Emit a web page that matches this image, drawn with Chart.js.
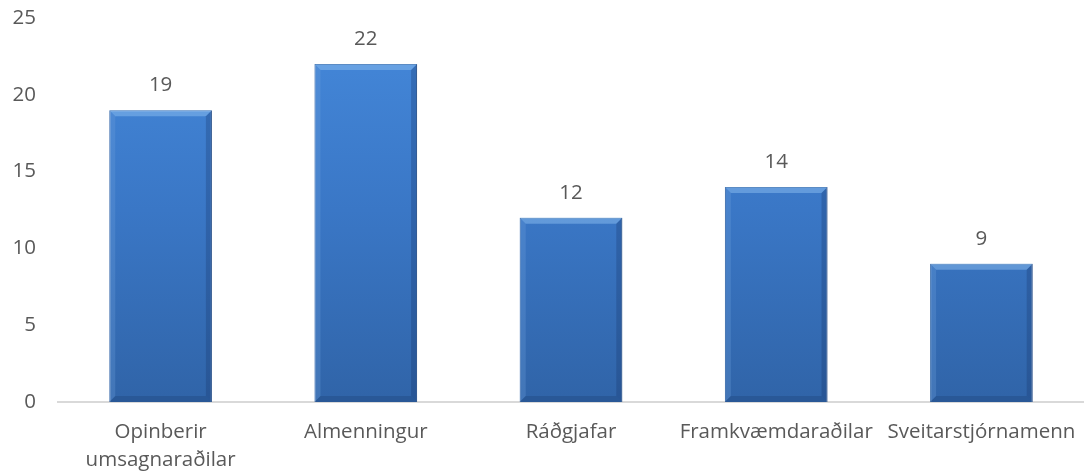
<!DOCTYPE html>
<html>
<head>
<meta charset="utf-8">
<script src="https://cdn.jsdelivr.net/npm/chart.js@4"></script>
<style>
  html, body { margin: 0; padding: 0; background: #fff; overflow: hidden; }
  #wrap { width: 1084px; height: 472px; position: relative; }
</style>
</head>
<body>
<div id="wrap"><canvas id="chart"></canvas></div>
<script>
const categories = [['Opinberir', 'umsagnaraðilar'], 'Almenningur', 'Ráðgjafar', 'Framkvæmdaraðilar', 'Sveitarstjórnamenn'];
const values = [19, 22, 12, 14, 9];
const yTicks = [0, 5, 10, 15, 20, 25];

const FONT = "'Open Sans', 'Liberation Sans', sans-serif";
const FS = 20.5;
const TXT = '#595959';

function barFill(ctx) {
  const c = ctx.chart;
  const a = c.chartArea;
  if (!a) return '#3a78c8';
  const g = c.ctx.createLinearGradient(0, a.top, 0, a.bottom);
  g.addColorStop(0, '#4589db');
  g.addColorStop(0.5, '#3a77c6');
  g.addColorStop(1, '#3064a8');
  return g;
}

// bevel highlight + value labels
const barDecor = {
  id: 'barDecor',
  afterDatasetsDraw(c) {
    const ctx = c.ctx;
    const meta = c.getDatasetMeta(0);
    meta.data.forEach((bar, i) => {
      const w = bar.width, l = bar.x - w / 2, r = bar.x + w / 2, t = bar.y, b = bar.base;
      const bev = 6;
      ctx.save();
      ctx.fillStyle = 'rgba(140,190,240,0.5)';
      ctx.beginPath();
      ctx.moveTo(l, t); ctx.lineTo(r, t); ctx.lineTo(r - bev, t + bev); ctx.lineTo(l + bev, t + bev); ctx.closePath();
      ctx.fill();
      ctx.fillStyle = 'rgba(110,160,220,0.3)';
      ctx.beginPath();
      ctx.moveTo(l, t); ctx.lineTo(l + bev, t + bev); ctx.lineTo(l + bev, b - bev); ctx.lineTo(l, b); ctx.closePath();
      ctx.fill();
      ctx.fillStyle = 'rgba(20,50,100,0.28)';
      ctx.beginPath();
      ctx.moveTo(r, t); ctx.lineTo(r - bev, t + bev); ctx.lineTo(r - bev, b - bev); ctx.lineTo(r, b); ctx.closePath();
      ctx.fill();
      ctx.fillStyle = 'rgba(20,50,100,0.25)';
      ctx.beginPath();
      ctx.moveTo(l, b); ctx.lineTo(r, b); ctx.lineTo(r - bev, b - bev); ctx.lineTo(l + bev, b - bev); ctx.closePath();
      ctx.fill();
      ctx.fillStyle = TXT;
      ctx.font = FS + 'px ' + FONT;
      ctx.textAlign = 'center';
      ctx.textBaseline = 'middle';
      ctx.fillText(String(values[i]), bar.x, t - 25);
      ctx.restore();
    });
  }
};

new Chart(document.getElementById('chart'), {
  type: 'bar',
  data: {
    labels: categories,
    datasets: [{
      data: values,
      backgroundColor: barFill,
      borderColor: '#2c5a98',
      borderWidth: 1,
      categoryPercentage: 1,
      barPercentage: 0.5
    }]
  },
  options: {
    responsive: true,
    maintainAspectRatio: false,
    animation: false,
    layout: { padding: { top: 18, right: 0, left: 0, bottom: 0 } },
    plugins: { legend: { display: false }, tooltip: { enabled: false } },
    scales: {
      x: {
        grid: { display: false, drawTicks: false },
        border: { display: true, color: '#d9d9d9', width: 2 },
        ticks: { color: TXT, font: { family: FONT, size: FS, lineHeight: 1.36 }, padding: 16, maxRotation: 0, autoSkip: false },
        afterFit(s) { s.height = 70; s.paddingLeft = 0; s.paddingRight = 0; }
      },
      y: {
        min: 0, max: 25,
        afterBuildTicks(s) { s.ticks = yTicks.map(v => ({ value: v })); },
        grid: { display: false, drawTicks: false },
        border: { display: false },
        ticks: { color: TXT, font: { family: FONT, size: FS }, padding: 22 },
        afterFit(s) { s.width = 58; s.paddingTop = 0; s.paddingBottom = 0; }
      }
    }
  },
  plugins: [barDecor]
});
</script>
</body>
</html>
